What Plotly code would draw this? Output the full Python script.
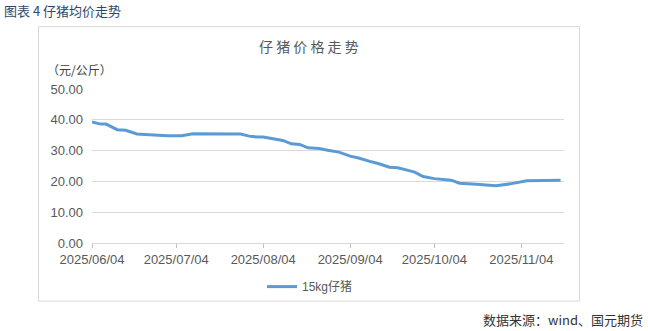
import plotly.graph_objects as go

dates = ["2025-06-04", "2025-06-07", "2025-06-09", "2025-06-13", "2025-06-16", "2025-06-20",
         "2025-06-26", "2025-07-01", "2025-07-06", "2025-07-10", "2025-07-27", "2025-07-30",
         "2025-08-02", "2025-08-04", "2025-08-07", "2025-08-11", "2025-08-14", "2025-08-17",
         "2025-08-20", "2025-08-24", "2025-08-27", "2025-08-31", "2025-09-04", "2025-09-07",
         "2025-09-11", "2025-09-14", "2025-09-18", "2025-09-21", "2025-09-25", "2025-09-27",
         "2025-09-30", "2025-10-04", "2025-10-10", "2025-10-13", "2025-10-19", "2025-10-26",
         "2025-10-31", "2025-11-06", "2025-11-12", "2025-11-18"]
piglet_15kg = [39.3, 38.6, 38.6, 36.8, 36.6, 35.4,
               35.1, 34.8, 34.8, 35.5, 35.4, 34.7,
               34.4, 34.4, 33.9, 33.3, 32.2, 32.0,
               30.9, 30.7, 30.1, 29.5, 28.2, 27.6,
               26.5, 25.8, 24.6, 24.4, 23.5, 23.0,
               21.6, 20.9, 20.4, 19.4, 19.1, 18.6,
               19.2, 20.2, 20.3, 20.4]

tick_dates = ["2025-06-04", "2025-07-04", "2025-08-04", "2025-09-04", "2025-10-04", "2025-11-04"]
tick_labels = ["2025/06/04", "2025/07/04", "2025/08/04", "2025/09/04", "2025/10/04", "2025/11/04"]
y_ticks = [0, 10, 20, 30, 40, 50]

W, H = 648, 331
L, R, T, B = 92, 564, 89, 243.3

def xp(px):
    return (px - L) / (R - L)

def yp(py):
    return (B - py) / (B - T)

fig = go.Figure()
fig.add_trace(go.Scatter(
    x=dates, y=piglet_15kg, mode="lines", name="15kg仔猪",
    line=dict(color="#5B9BD5", width=3),
))

fig.update_layout(
    width=W, height=H,
    margin=dict(l=L, r=W - R, t=T, b=H - B),
    paper_bgcolor="white", plot_bgcolor="white",
    font=dict(family="Liberation Sans, Noto Sans CJK SC", size=13, color="#595959"),
    showlegend=True,
    legend=dict(orientation="h", x=xp(262), xanchor="left", y=yp(287), yanchor="middle",
                font=dict(family="Liberation Sans, Noto Sans CJK SC", size=12, color="#595959"),
                bgcolor="rgba(0,0,0,0)"),
)

fig.update_xaxes(
    type="date",
    range=["2025-06-04", "2025-11-19 05:00"],
    tickmode="array", tickvals=tick_dates, ticktext=tick_labels,
    showgrid=False, showline=True, linecolor="#D9D9D9", linewidth=1,
    ticks="outside", ticklen=4, tickcolor="#BFBFBF",
    tickfont=dict(size=13, color="#595959"),
    zeroline=False,
)
fig.update_yaxes(
    range=[0, 50], tickmode="array", tickvals=y_ticks, tickformat=".2f",
    showgrid=True, gridcolor="#D9D9D9", gridwidth=1,
    zeroline=False, showline=False, ticks="",
    ticklabelstandoff=8,
    tickfont=dict(size=13, color="#595959"),
)

# outer chart border
fig.add_shape(type="rect", xref="paper", yref="paper",
              x0=xp(38.5), x1=xp(579.5), y0=yp(301.5), y1=yp(26.5),
              line=dict(color="#D9D9D9", width=1), fillcolor="rgba(0,0,0,0)", layer="below")

annos = [
    dict(text="图表 4 仔猪均价走势", x=xp(2), y=yp(10), xanchor="left", yanchor="middle",
         font=dict(family="Noto Sans CJK SC", size=13, color="#2E4A6B")),
    dict(text="仔 猪 价 格 走 势", x=xp(309), y=yp(46), xanchor="center", yanchor="middle",
         font=dict(family="Noto Sans CJK SC", size=14, color="#595959")),
    dict(text="（元/公斤）", x=xp(45), y=yp(69), xanchor="left", yanchor="middle",
         font=dict(family="Noto Sans CJK SC", size=12, color="#404040")),
    dict(text="数据来源：wind、国元期货", x=xp(645), y=yp(320), xanchor="right", yanchor="middle",
         font=dict(family="Noto Sans CJK SC", size=13, color="#333333")),
]
for a in annos:
    fig.add_annotation(xref="paper", yref="paper", showarrow=False, **a)

fig.write_html("out.html")
